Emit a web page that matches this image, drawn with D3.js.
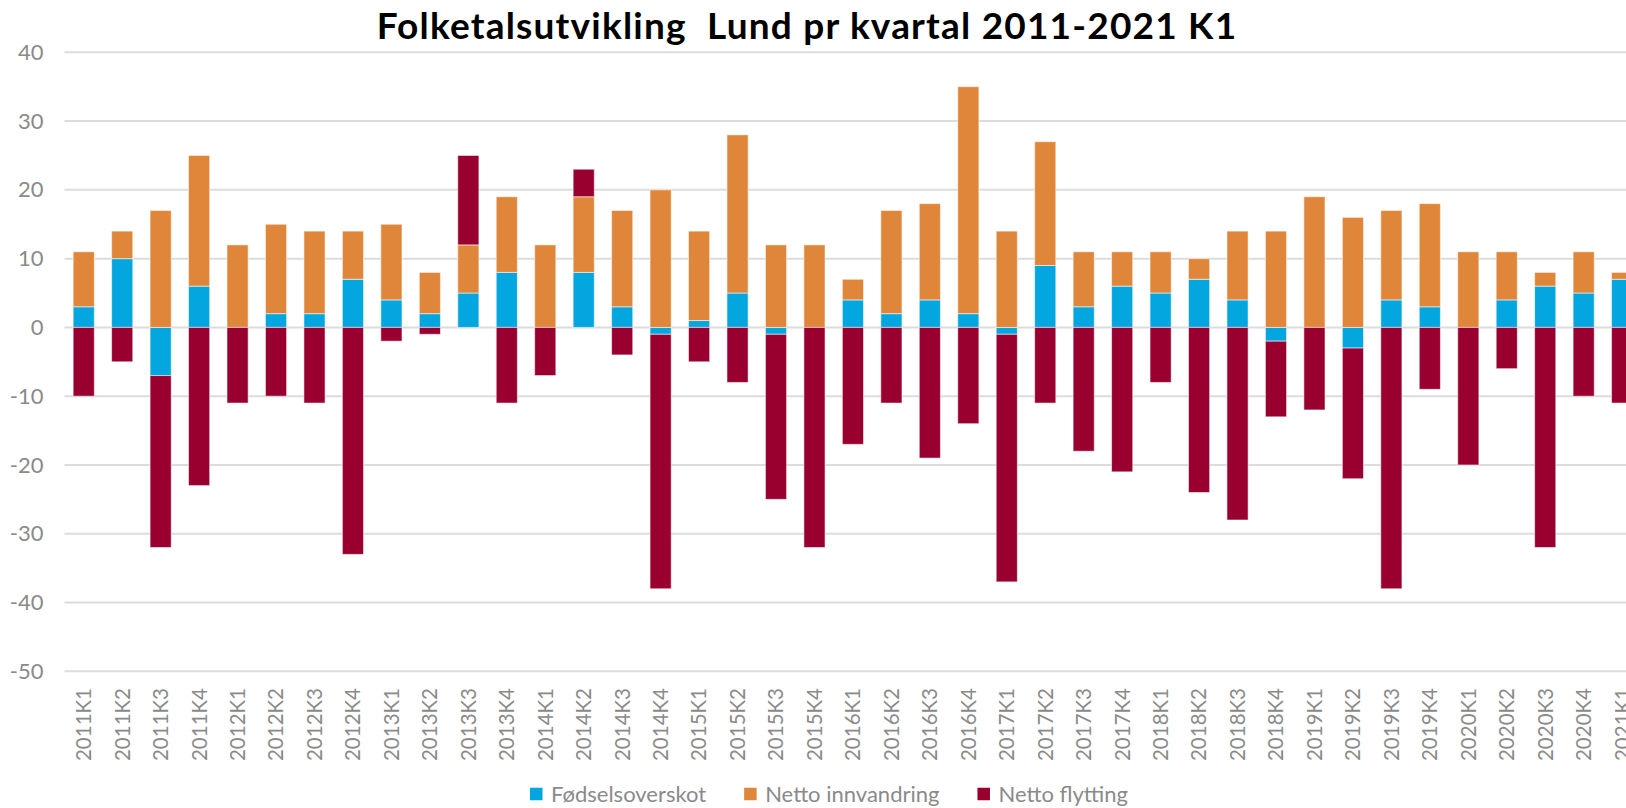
<!DOCTYPE html>
<html>
<head>
<meta charset="utf-8">
<script src="https://cdn.jsdelivr.net/npm/d3@7"></script>
<style>
  body { margin: 0; background: #fff; }
  svg { display: block; font-family: Lato, "Open Sans", sans-serif; }
</style>
</head>
<body>
<svg id="chart"></svg>
<script>
var quarters = ["2011K1","2011K2","2011K3","2011K4","2012K1","2012K2","2012K3","2012K4",
  "2013K1","2013K2","2013K3","2013K4","2014K1","2014K2","2014K3","2014K4",
  "2015K1","2015K2","2015K3","2015K4","2016K1","2016K2","2016K3","2016K4",
  "2017K1","2017K2","2017K3","2017K4","2018K1","2018K2","2018K3","2018K4",
  "2019K1","2019K2","2019K3","2019K4","2020K1","2020K2","2020K3","2020K4","2021K1"];

var fodselsoverskot = [3,10,-7,6, 0,2,2,7, 4,2,5,8, 0,8,3,-1, 1,5,-1,0, 4,2,4,2,
  -1,9,3,6, 5,7,4,-2, 0,-3,4,3, 0,4,6,5, 7];
var nettoInnvandring = [8,4,17,19, 12,13,12,7, 11,6,7,11, 12,11,14,20, 13,23,12,12, 3,15,14,33,
  14,18,8,5, 6,3,10,14, 19,16,13,15, 11,7,2,6, 1];
var nettoFlytting = [-10,-5,-25,-23, -11,-10,-11,-33, -2,-1,13,-11, -7,4,-4,-37, -5,-8,-24,-32,
  -17,-11,-19,-14, -36,-11,-18,-21, -8,-24,-28,-11, -12,-19,-38,-9, -20,-6,-32,-10, -11];

var seriesNames = ["Fødselsoverskot", "Netto innvandring", "Netto flytting"];
var yTicks = [-50,-40,-30,-20,-10,0,10,20,30,40];

var svgWidth = 1626, svgHeight = 808;
var colors = ["#04a6e0", "#e0863a", "#990030"];
var plotLeft = 64.5, step = 38.46;

var svg = d3.select("#chart")
  .attr("width", svgWidth)
  .attr("height", svgHeight);

var rows = quarters.map(function(q, i) {
  var r = { q: q };
  r[seriesNames[0]] = fodselsoverskot[i];
  r[seriesNames[1]] = nettoInnvandring[i];
  r[seriesNames[2]] = nettoFlytting[i];
  return r;
});

var x = d3.scaleBand()
  .domain(quarters)
  .range([plotLeft, plotLeft + step * quarters.length])
  .paddingInner(0.45)
  .paddingOuter(0.225);

var y = d3.scaleLinear()
  .domain([-50, 40])
  .range([671.3, 52.3]);

var z = d3.scaleOrdinal().domain(seriesNames).range(colors);

// title
svg.append("text")
  .attr("x", 807)
  .attr("y", 39)
  .style("text-anchor", "middle")
  .style("font-weight", "bold")
  .style("font-size", "37px")
  .style("letter-spacing", "1.2px")
  .style("white-space", "pre")
  .attr("fill", "#000")
  .text("Folketalsutvikling  Lund pr kvartal 2011-2021 K1");

// gridlines
svg.append("g").attr("class", "grid")
  .selectAll("line")
  .data(yTicks)
  .join("line")
  .attr("x1", plotLeft)
  .attr("x2", x.range()[1])
  .attr("y1", d => y(d))
  .attr("y2", d => y(d))
  .attr("stroke", "#dcdcdc")
  .attr("stroke-width", 2);

// y axis (plain hyphen for minus, as in the original)
var yAxis = svg.append("g")
  .attr("transform", "translate(" + plotLeft + ",0)")
  .call(d3.axisLeft(y).tickValues(yTicks).tickFormat(d => String(d)).tickSize(0).tickPadding(21));
yAxis.select(".domain").remove();
yAxis.selectAll("text")
  .style("font-size", "22px")
  .style("font-family", "Lato, sans-serif")
  .attr("fill", "#8a8a8a");

// x axis labels
var xAxis = svg.append("g")
  .attr("transform", "translate(0," + y(-50) + ")")
  .call(d3.axisBottom(x).tickSize(0));
xAxis.select(".domain").remove();
xAxis.selectAll("text")
  .attr("transform", "rotate(-90)")
  .attr("x", -16.7)
  .attr("y", 0)
  .attr("dy", "0.36em")
  .style("text-anchor", "end")
  .style("font-size", "20.5px")
  .style("font-family", "Lato, sans-serif")
  .attr("fill", "#8a8a8a");

// stacked bars, positives up and negatives down like Excel
var stacked = d3.stack()
  .keys(seriesNames)
  .offset(d3.stackOffsetDiverging)(rows);

svg.append("g").selectAll("g.layer")
  .data(stacked)
  .join("g")
  .classed("layer", true)
  .attr("fill", d => z(d.key))
  .selectAll("rect")
  .data(d => d)
  .join("rect")
  .attr("x", d => x(d.data.q))
  .attr("width", x.bandwidth())
  .attr("y", d => y(Math.max(d[0], d[1])))
  .attr("height", d => Math.abs(y(d[0]) - y(d[1])))
  .attr("stroke", "rgba(255,255,255,0.55)")
  .attr("stroke-width", 1);

// legend
var legend = svg.append("g").attr("class", "legend");
var lx = 530, size = 12.5;
seriesNames.forEach(function(name) {
  legend.append("rect")
    .attr("x", lx)
    .attr("y", 794 - size / 2)
    .attr("width", size)
    .attr("height", size)
    .attr("fill", z(name));
  var t = legend.append("text")
    .attr("x", lx + 21)
    .attr("y", 794)
    .attr("dy", "0.35em")
    .style("font-size", "22px")
    .attr("fill", "#8a8a8a")
    .text(name);
  lx = lx + 21 + t.node().getComputedTextLength() + 38;
});
</script>
</body>
</html>
